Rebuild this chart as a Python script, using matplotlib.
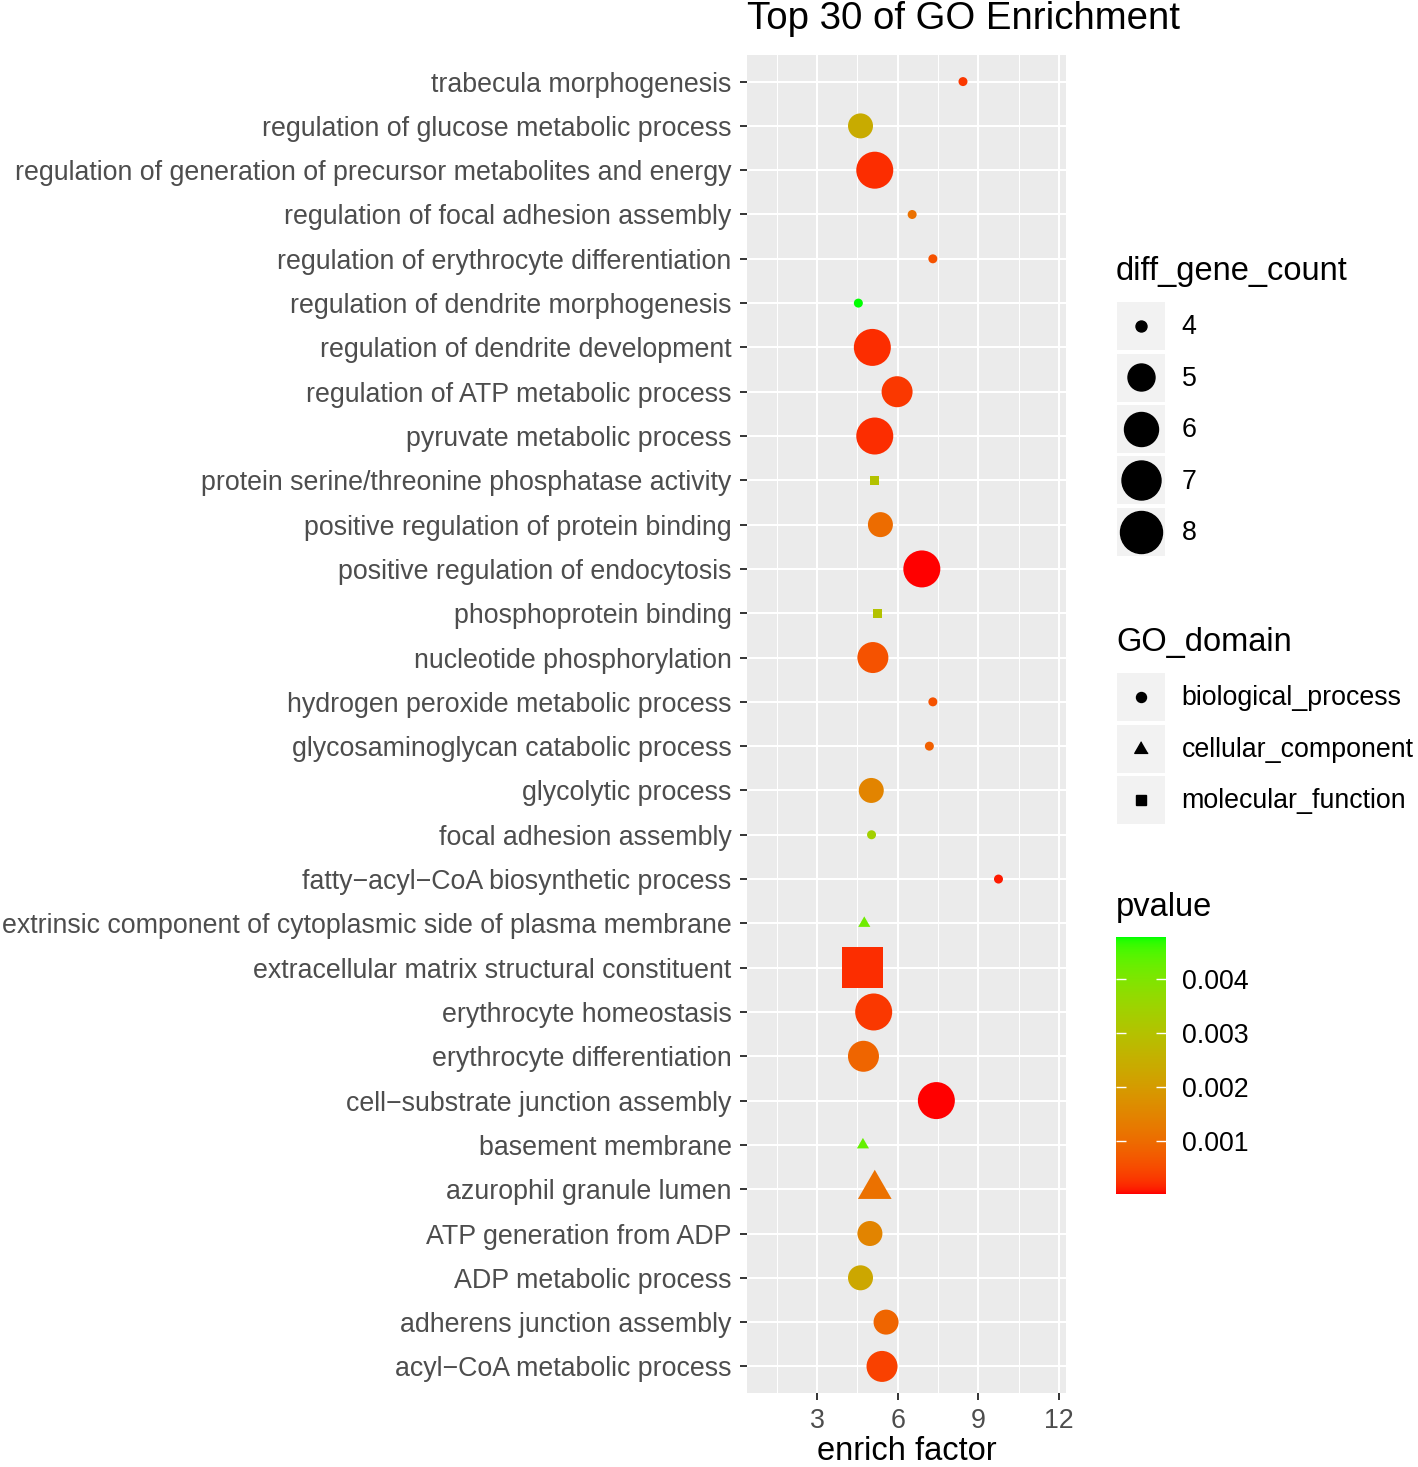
import numpy as np
import matplotlib
matplotlib.use("Agg")
import matplotlib.pyplot as plt
from matplotlib.colors import ListedColormap, Normalize
from matplotlib.lines import Line2D
from matplotlib.patches import Rectangle
from matplotlib.legend_handler import HandlerLine2D

plt.rcParams['font.family'] = ['Liberation Sans', 'DejaVu Sans']

# GO terms, bottom to top (ggplot's alphabetical order)
terms = [
    "acyl−CoA metabolic process",
    "adherens junction assembly",
    "ADP metabolic process",
    "ATP generation from ADP",
    "azurophil granule lumen",
    "basement membrane",
    "cell−substrate junction assembly",
    "erythrocyte differentiation",
    "erythrocyte homeostasis",
    "extracellular matrix structural constituent",
    "extrinsic component of cytoplasmic side of plasma membrane",
    "fatty−acyl−CoA biosynthetic process",
    "focal adhesion assembly",
    "glycolytic process",
    "glycosaminoglycan catabolic process",
    "hydrogen peroxide metabolic process",
    "nucleotide phosphorylation",
    "phosphoprotein binding",
    "positive regulation of endocytosis",
    "positive regulation of protein binding",
    "protein serine/threonine phosphatase activity",
    "pyruvate metabolic process",
    "regulation of ATP metabolic process",
    "regulation of dendrite development",
    "regulation of dendrite morphogenesis",
    "regulation of erythrocyte differentiation",
    "regulation of focal adhesion assembly",
    "regulation of generation of precursor metabolites and energy",
    "regulation of glucose metabolic process",
    "trabecula morphogenesis",
]
enrich_factor = [5.42, 5.57, 4.62, 4.97, 5.15, 4.71, 7.44, 4.73, 5.11, 4.68,
                 4.76, 9.75, 5.03, 5.02, 7.18, 7.31, 5.08, 5.27, 6.90, 5.36,
                 5.14, 5.15, 5.98, 5.06, 4.54, 7.31, 6.54, 5.15, 4.62, 8.43]
diff_gene_count = [6, 5, 5, 5, 5, 4, 7, 6, 7, 8,
                   4, 4, 4, 5, 4, 4, 6, 4, 7, 5,
                   4, 7, 6, 7, 4, 4, 4, 7, 5, 4]
go_domain = ["BP", "BP", "BP", "BP", "CC", "CC", "BP", "BP", "BP", "MF",
             "CC", "BP", "BP", "BP", "BP", "BP", "BP", "MF", "BP", "BP",
             "MF", "BP", "BP", "BP", "BP", "BP", "BP", "BP", "BP", "BP"]
pvalue = [0.0004, 0.0009, 0.0023, 0.0015, 0.0011, 0.0043, 0.00001, 0.0009, 0.0003, 0.0002,
          0.0042, 0.0001, 0.0034, 0.0015, 0.0008, 0.0006, 0.0006, 0.0030, 0.00001, 0.0010,
          0.0030, 0.0002, 0.0003, 0.0002, 0.00478, 0.0006, 0.0011, 0.0002, 0.0024, 0.0003]

domain_names = {"BP": "biological_process", "CC": "cellular_component", "MF": "molecular_function"}
count_levels = [4, 5, 6, 7, 8]
cbar_ticks = [0.001, 0.002, 0.003, 0.004]

W, H, DPI = 1418, 1467, 100
PX = 72 / DPI  # points per pixel

# red -> green gradient interpolated in CIELAB, like scale_colour_gradient
M = np.array([[0.4124, 0.3576, 0.1805], [0.2126, 0.7152, 0.0722], [0.0193, 0.1192, 0.9505]])
WHITE = np.array([0.95047, 1.0, 1.08883])


def to_lab(rgb):
    c = np.asarray(rgb, float)
    c = np.where(c <= 0.04045, c / 12.92, ((c + 0.055) / 1.055) ** 2.4)
    t = M @ c / WHITE
    f = np.where(t > 0.008856, np.cbrt(t), 7.787 * t + 16 / 116)
    return np.array([116 * f[1] - 16, 500 * (f[0] - f[1]), 200 * (f[1] - f[2])])


def from_lab(lab):
    fy = (lab[0] + 16) / 116
    f = np.array([fy + lab[1] / 500, fy, fy - lab[2] / 200])
    xyz = np.where(f ** 3 > 0.008856, f ** 3, (f - 16 / 116) / 7.787) * WHITE
    c = np.clip(np.linalg.inv(M) @ xyz, 0, 1)
    c = np.where(c <= 0.0031308, 12.92 * c, 1.055 * c ** (1 / 2.4) - 0.055)
    return np.clip(c, 0, 1)


lo, hi = to_lab([1, 0, 0]), to_lab([0, 1, 0])
cmap = ListedColormap([from_lab(lo + t * (hi - lo)) for t in np.linspace(0, 1, 256)])

x = np.array(enrich_factor)
y = np.arange(1, len(terms) + 1)
cnt = np.array(diff_gene_count)
dom = np.array(go_domain)
p = np.array(pvalue)
norm = Normalize(vmin=p.min(), vmax=p.max())

diam = {4: 9, 5: 25, 6: 31, 7: 37, 8: 41}
leg_diam = {4: 11, 5: 27, 6: 34, 7: 39, 8: 42}
tri = [(0, 0.577), (-0.5, -0.289), (0.5, -0.289)]
shapes = {"BP": ('o', 1.0), "CC": (tri, 1.555), "MF": ('s', 1.0)}

fig = plt.figure(figsize=(W / DPI, H / DPI), dpi=DPI)
ax = fig.add_axes([747 / W, 1 - 1393 / H, 319 / W, 1338 / H])

for d, (mk, f) in shapes.items():
    m = dom == d
    sizes = [(diam[c] * f * PX) ** 2 for c in cnt[m]]
    sc = ax.scatter(x[m], y[m], s=sizes, c=p[m], cmap=cmap, norm=norm,
                    marker=mk, linewidths=0, zorder=3)

ax.set_facecolor('#EBEBEB')
ax.set_xlim(0.40, 12.26)
ax.set_ylim(0.4, 30.6)
ax.set_xticks([3, 6, 9, 12])
ax.set_xticks([1.5, 4.5, 7.5, 10.5], minor=True)
ax.set_yticks(y)
ax.set_yticklabels(terms)
ax.set_axisbelow(True)
ax.grid(which='major', color='white', lw=1.5)
ax.grid(which='minor', axis='x', color='white', lw=0.75)
for s in ax.spines.values():
    s.set_visible(False)
ax.tick_params(which='major', length=5, width=1.4, color='#333333',
               labelcolor='#4D4D4D', labelsize=19.3, pad=6)
ax.tick_params(which='minor', length=0)
ax.set_xlabel('enrich factor', fontsize=23.5, labelpad=1.5)

fig.text(747 / W, 1 - 29 / H, 'Top 30 of GO Enrichment', fontsize=27.6,
         ha='left', va='baseline')


class KeyBox(HandlerLine2D):
    # grey ggplot-style key background with the marker centred on it
    def create_artists(self, legend, orig_handle, xdescent, ydescent,
                       width, height, fontsize, trans):
        bg = Rectangle((-xdescent, -ydescent), width, height, facecolor='#F2F2F2',
                       edgecolor='none', transform=trans)
        arts = super().create_artists(legend, orig_handle, xdescent, ydescent,
                                      width, height, fontsize, trans)
        for a in arts:
            if isinstance(a, Line2D):
                a.set_ydata(np.full(len(a.get_xdata()), height / 2 - ydescent))
        return [bg] + arts


fs = 19.3
key_w = 48 * PX / fs
# legend shrinks the handle box by its descent, so ask for a bit more height
key_h = (48 * PX / fs - 0.245) / 0.65
leg_kw = dict(loc='upper left', frameon=False, fontsize=fs, handlelength=key_w,
              handleheight=key_h, labelspacing=3.5 * PX / fs, handletextpad=0.62,
              borderpad=0, borderaxespad=0, handler_map={Line2D: KeyBox()})

size_handles = [Line2D([], [], ls='none', marker='o', color='black',
                       markersize=leg_diam[c] * PX) for c in count_levels]
fig.legend(size_handles, [str(c) for c in count_levels],
           bbox_to_anchor=(1117 / W, 1 - 302 / H), **leg_kw)
fig.text(1116 / W, 1 - 280 / H, 'diff_gene_count', fontsize=23.5, va='baseline')

shape_handles = [Line2D([], [], ls='none', marker=shapes[k][0], color='black',
                        markersize=10 * shapes[k][1] * PX) for k in domain_names]
fig.legend(shape_handles, list(domain_names.values()),
           bbox_to_anchor=(1117 / W, 1 - 673 / H), **leg_kw)
fig.text(1116 / W, 1 - 651 / H, 'GO_domain', fontsize=23.5, va='baseline')

cax = fig.add_axes([1116 / W, 1 - 1194 / H, 50 / W, 257 / H])
cb = fig.colorbar(sc, cax=cax, ticks=cbar_ticks)
cb.outline.set_visible(False)
cb.set_ticklabels([f"{t:.3f}" for t in cbar_ticks])
cax.tick_params(axis='y', direction='in', length=7, width=1, color='white',
                left=True, right=True, labelleft=False, labelright=True,
                labelsize=fs, pad=11.5)
fig.text(1116 / W, 1 - 916 / H, 'pvalue', fontsize=23.5, va='baseline')

fig.savefig('out.png', dpi=DPI)
